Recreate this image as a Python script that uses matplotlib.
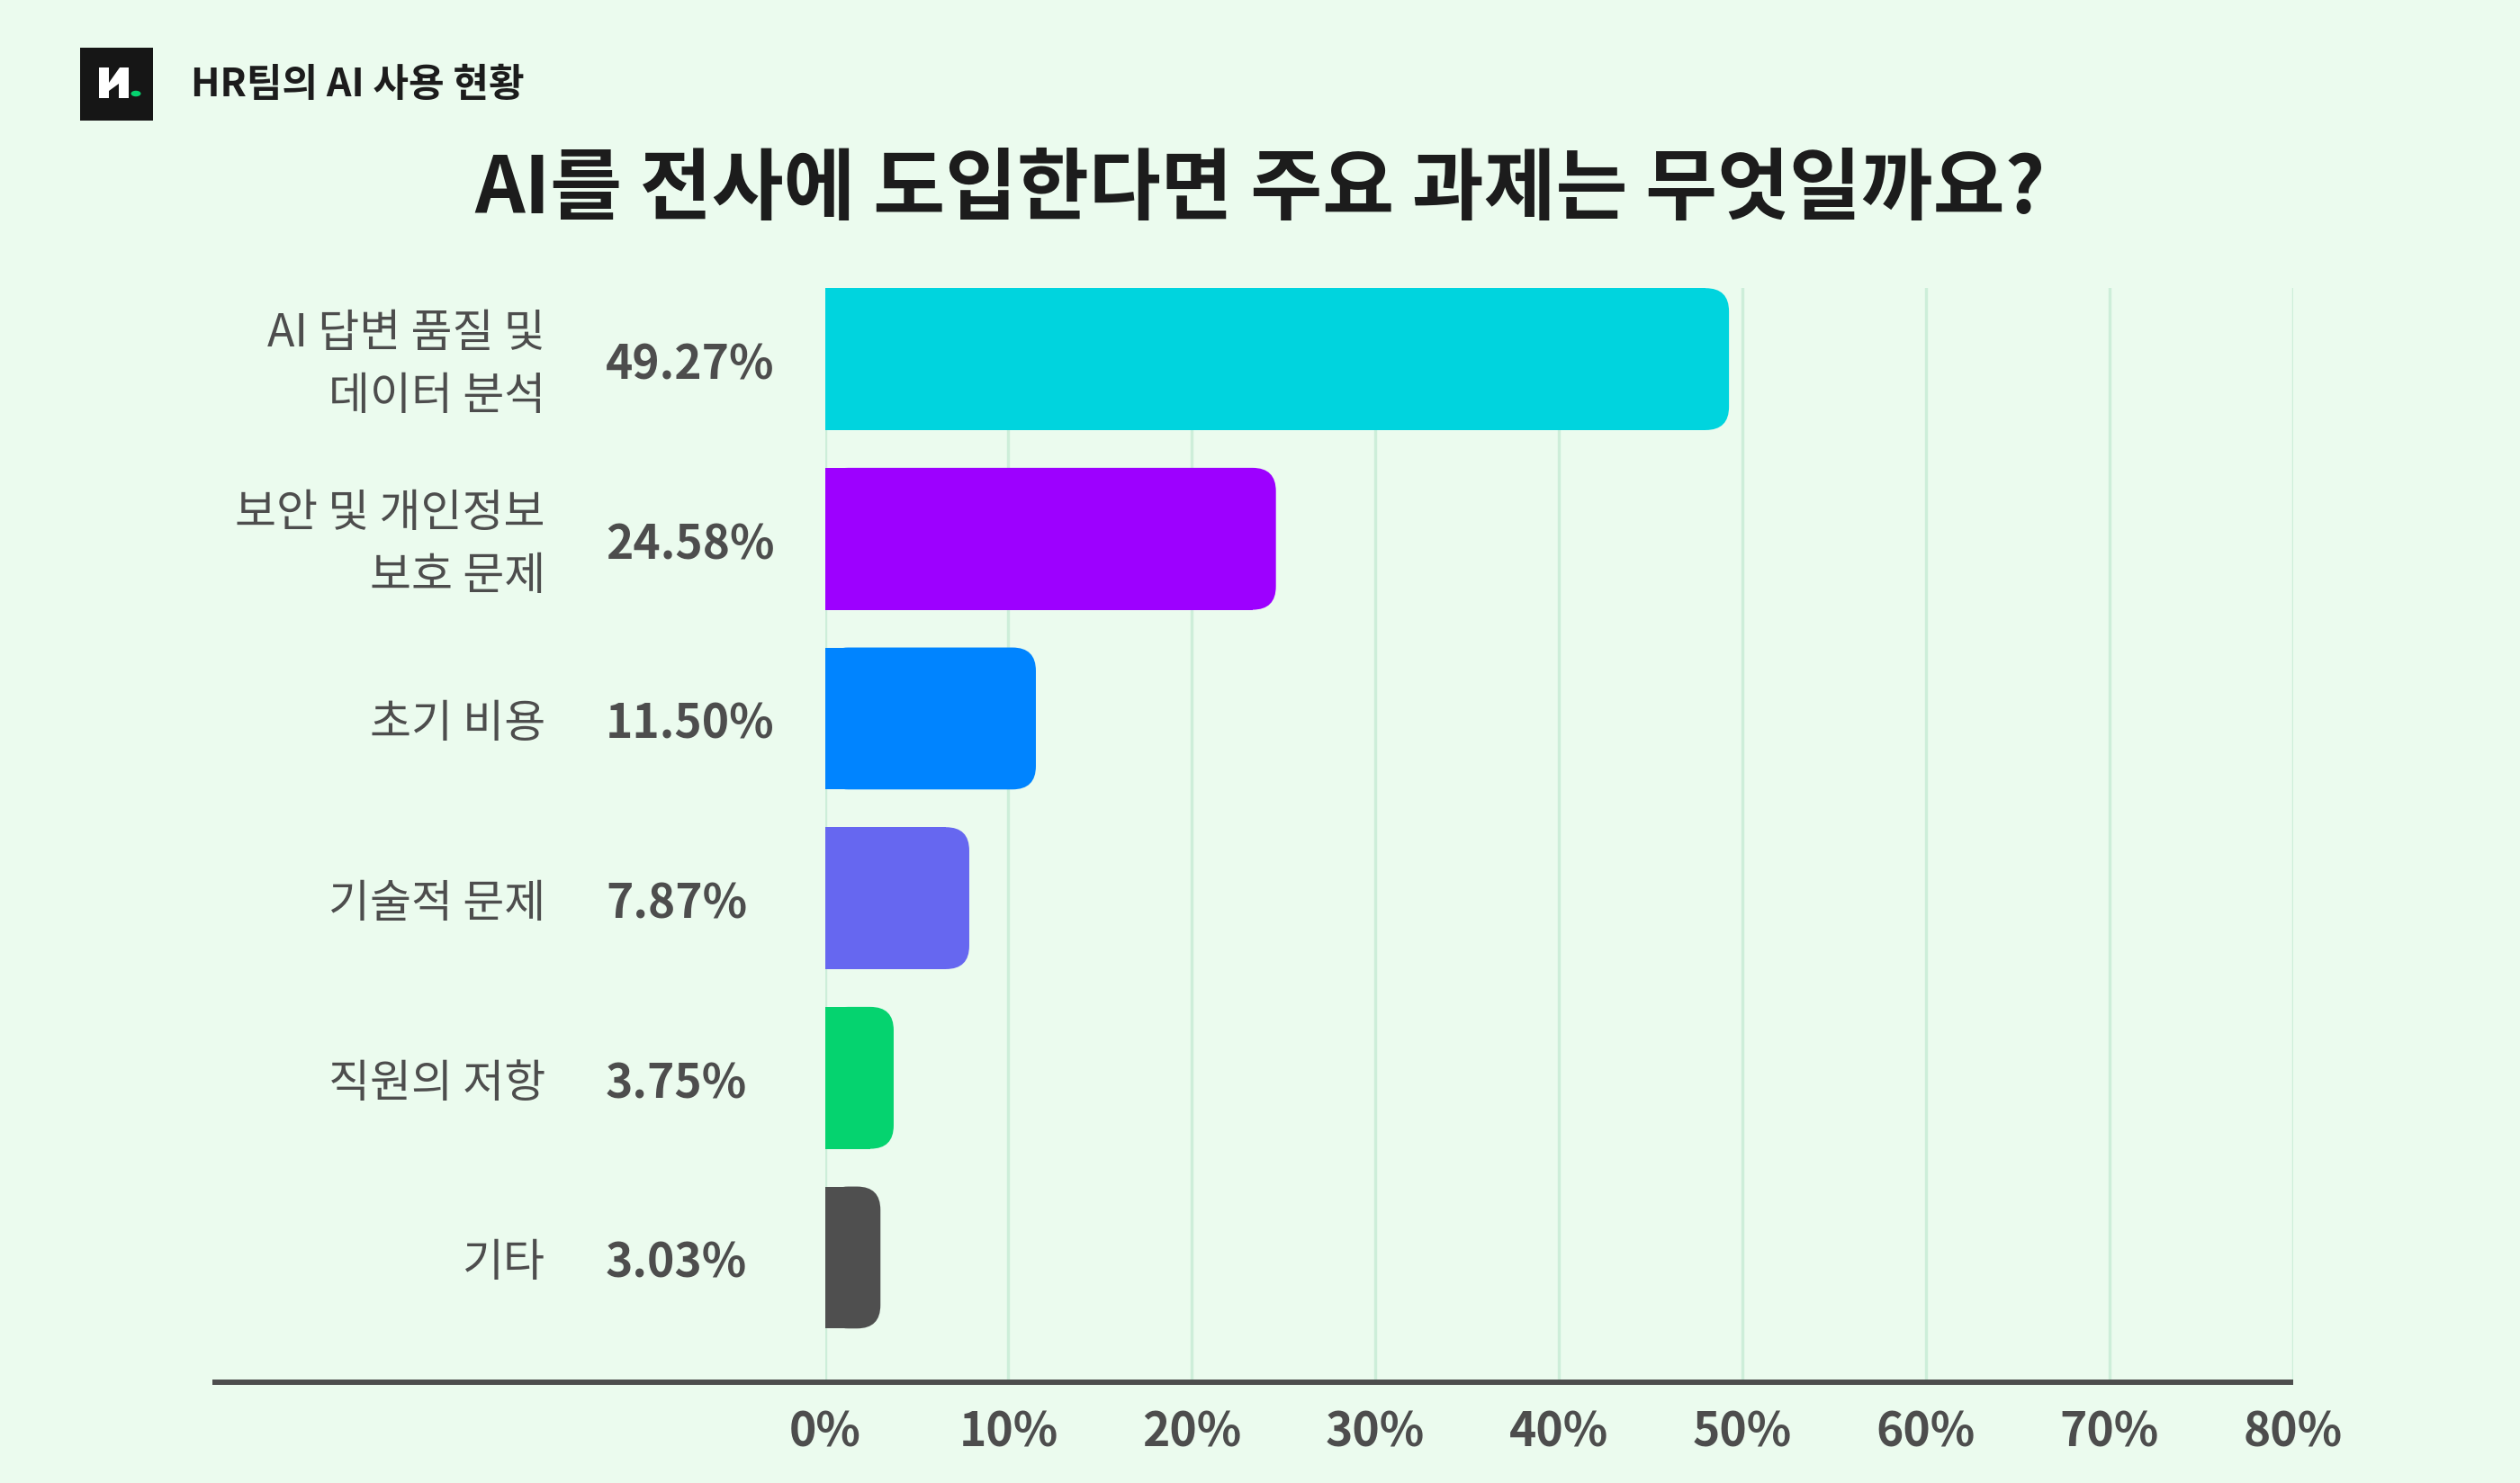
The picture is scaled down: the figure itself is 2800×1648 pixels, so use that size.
import numpy as np
import matplotlib
matplotlib.use("Agg")
import matplotlib.pyplot as plt
from matplotlib.patches import FancyBboxPatch, Rectangle, Polygon, Circle

plt.rcParams['font.family'] = ['Noto Sans CJK KR', 'DejaVu Sans']

# 데이터
categories = ["AI 답변 품질 및\n데이터 분석", "보안 및 개인정보\n보호 문제", "초기 비용",
              "기술적 문제", "직원의 저항", "기타"]
values = [49.27, 24.58, 11.50, 7.87, 3.75, 3.03]
value_labels = ["49.27%", "24.58%", "11.50%", "7.87%", "3.75%", "3.03%"]
bar_colors = ["#00d4de", "#9d00ff", "#0084ff", "#6667f0", "#05d36f", "#4f4f4f"]
x_ticks = [0, 10, 20, 30, 40, 50, 60, 70, 80]
x_tick_labels = ["0%", "10%", "20%", "30%", "40%", "50%", "60%", "70%", "80%"]

title = "AI를 전사에 도입한다면 주요 과제는 무엇일까요?"
subtitle = "HR팀의 AI 사용 현황"

BG = "#ebfbee"
GRID = "#cdeed9"
TEXT = "#4d4d4d"
DARK = "#1c1c1c"

W, H = 2800, 1648
fig = plt.figure(figsize=(W / 100, H / 100), dpi=100, facecolor=BG)


def fx(px):
    return px / W


def fy(py):
    # pixel measured from top -> figure fraction
    return 1 - py / H


# 그래프 영역
ax = fig.add_axes([fx(916.5), fy(1536), fx(2547.7) - fx(916.5), fy(320) - fy(1536)])
ax.set_facecolor(BG)
ax.set_xlim(0, 80)
ax.set_ylim(5.694, -0.396)
for s in ax.spines.values():
    s.set_visible(False)

# 세로 격자선
ax.set_xticks(x_ticks)
ax.set_xticklabels(x_tick_labels, fontsize=37, fontweight="bold", color=TEXT)
ax.tick_params(axis="x", length=0, pad=21)
ax.set_yticks([])
ax.grid(axis="x", color=GRID, linewidth=2.4, zorder=0)
ax.set_axisbelow(True)

# 막대 (오른쪽 모서리만 둥글게)
pos = np.arange(len(values))
bar_h = 0.79
bars = ax.barh(pos, values, height=bar_h, color=bar_colors, zorder=2)
r = 1.275                   # x 방향 반경 (데이터 단위)
aspect = 0.130 / r          # y 방향 반경 보정
for b, c in zip(bars, bar_colors):
    x0, y0, w, h = b.get_x(), b.get_y(), b.get_width(), b.get_height()
    ax.add_patch(FancyBboxPatch((x0, y0), w, h,
                                boxstyle=f"round,pad=0,rounding_size={r}",
                                mutation_aspect=aspect, facecolor=c,
                                edgecolor="none", zorder=2))
    b.set_width(w - r)

# 항목 이름과 값 (글자 아래 여백만큼 살짝 내림)
dy = 0.035
for i in range(len(values)):
    ax.text(-15.23, pos[i] + dy, categories[i], ha="right", va="center",
            multialignment="right", fontsize=36, color=TEXT,
            linespacing=1.45, clip_on=False)
    ax.text(-11.94, pos[i] + dy, value_labels[i], ha="left", va="center",
            fontsize=37, fontweight="bold", color=TEXT, clip_on=False)

# 아래 축선 (왼쪽으로 길게)
ax.plot([(236 - 916.5) / (2547.7 - 916.5), 1.0], [0, 0], transform=ax.transAxes,
        color=TEXT, linewidth=4.3, solid_capstyle="butt", clip_on=False, zorder=3)

# 제목
fig.text(0.5, fy(212), title, ha="center", va="center",
         fontsize=62.5, fontweight="bold", color=DARK)
fig.text(fx(212), fy(94), subtitle, ha="left", va="center",
         fontsize=31, fontweight="bold", color=DARK)

# 로고
fig.patches.append(Rectangle((fx(89), fy(134)), fx(81), fx(81) * W / H,
                             transform=fig.transFigure, facecolor="#161616",
                             edgecolor="none"))
fig.patches.append(Rectangle((fx(110), fy(109)), fx(11), 34 / H,
                             transform=fig.transFigure, facecolor="white",
                             edgecolor="none"))
flag = [(121, 92), (133, 75), (143, 75), (143, 109), (132, 109), (132, 93), (121, 101)]
fig.patches.append(Polygon([(fx(a), fy(b)) for a, b in flag], closed=True,
                           transform=fig.transFigure, facecolor="white",
                           edgecolor="none"))
fig.patches.append(Circle((fx(151), fy(104)), fx(5.5),
                          transform=fig.transFigure, facecolor="#05d36f",
                          edgecolor="none"))

fig.savefig("out.png", dpi=100, facecolor=BG)
